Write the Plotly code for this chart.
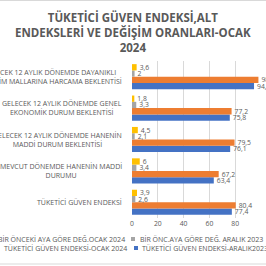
import plotly.graph_objects as go

# ---- data ----
categories = ["TGE", "MEVCUT", "HANE_BEK", "GENEL_BEK", "DAYANIKLI"]
category_labels = [
    "TÜKETİCİ GÜVEN ENDEKSİ",
    "MEVCUT DÖNEMDE HANENİN MADDİ<br>DURUMU",
    "GELECEK 12 AYLIK DÖNEMDE HANENİN<br>MADDİ DURUM BEKLENTİSİ",
    "GELECEK 12 AYLIK DÖNEMDE GENEL<br>EKONOMİK DURUM BEKLENTİSİ",
    "GELECEK 12 AYLIK DÖNEMDE DAYANIKLI<br>TÜKETİM MALLARINA HARCAMA BEKLENTİSİ",
]
endeks_aralik = [77.4, 63.4, 76.1, 75.8, 94.6]
endeks_ocak = [80.4, 67.2, 79.5, 77.2, 98.0]
deg_aralik = [2.6, 3.4, 2.1, 3.3, 2.0]
deg_ocak = [3.9, 6.0, 4.5, 1.8, 3.6]
series_names = [
    "TÜKETİCİ GÜVEN ENDEKSİ-ARALIK2023",
    "TÜKETİCİ GÜVEN ENDEKSİ-OCAK 2024",
    "BİR ÖNC.AYA GÖRE DEĞ. ARALIK 2023",
    "BİR ÖNCEKİ AYA GÖRE DEĞ.OCAK 2024",
]
series_values = [endeks_aralik, endeks_ocak, deg_aralik, deg_ocak]
series_colors = ["#4472C4", "#ED7D31", "#A5A5A5", "#FFC000"]
x_ticks = [0, 20, 40, 60, 80, 100]
title_text = "TÜKETİCİ GÜVEN ENDEKSİ,ALT<br>ENDEKSLERİ VE DEĞİŞİM ORANLARI-OCAK<br>2024"

FONT = "Open Sans"
GRAY = "#595959"
W = H = 266
L, R, T, B = 132, 5, 61, 48
PW, PH = W - L - R, H - T - B


def px_x(p):
    return (p - L) / PW


def px_y(p):
    return (H - B - p) / PH


def fmt(v):
    return f"{v:g}".replace(".", ",")


fig = go.Figure()
for name, vals, col in zip(series_names, series_values, series_colors):
    fig.add_trace(go.Bar(
        y=categories, x=vals, orientation="h", name=name,
        marker=dict(color=col, line=dict(width=0)),
        text=[fmt(v) for v in vals], textposition="outside",
        textfont=dict(family=FONT, size=6.8, color=GRAY),
        cliponaxis=False, constraintext="none", showlegend=False,
    ))

annotations = []
for cat, lab in zip(categories, category_labels):
    annotations.append(dict(
        x=px_x(124), xref="paper", y=cat, yref="y", text=lab,
        xanchor="right", yanchor="middle", align="center", showarrow=False,
        font=dict(family=FONT, size=7, color=GRAY),
    ))

# title
annotations.append(dict(
    x=px_x(133), xref="paper", y=px_y(7.5), yref="paper", text=title_text,
    xanchor="center", yanchor="top", align="center", showarrow=False,
    font=dict(family=FONT, size=11.5, color=GRAY, weight="bold"),
))

# legend (manual, partially cropped like the reference)
leg_rows = [
    (239, series_names[3], 127, series_colors[2], 133, series_names[2], 138),
    (248, series_names[1], 129, series_colors[0], 136, series_names[0], 140),
]
shapes = []
for ypx, ltxt, lend, mcol, mx, rtxt, rstart in leg_rows:
    annotations.append(dict(x=px_x(lend), xref="paper", y=px_y(ypx), yref="paper",
                            text=ltxt, xanchor="right", yanchor="middle", showarrow=False,
                            font=dict(family=FONT, size=7, color=GRAY)))
    annotations.append(dict(x=px_x(rstart), xref="paper", y=px_y(ypx), yref="paper",
                            text=rtxt, xanchor="left", yanchor="middle", showarrow=False,
                            font=dict(family=FONT, size=7, color=GRAY)))
    shapes.append(dict(type="rect", xref="paper", yref="paper",
                       x0=px_x(mx - 2), x1=px_x(mx + 2), y0=px_y(ypx + 2), y1=px_y(ypx - 2),
                       fillcolor=mcol, line=dict(width=0)))

# chart border lines
shapes.append(dict(type="line", xref="paper", yref="paper", x0=-2, x1=2,
                   y0=px_y(264), y1=px_y(264), line=dict(color="#D9D9D9", width=1)))
shapes.append(dict(type="line", xref="paper", yref="paper", x0=-2, x1=2,
                   y0=px_y(0.5), y1=px_y(0.5), line=dict(color="#D9D9D9", width=1)))

fig.update_layout(
    width=W, height=H,
    margin=dict(l=L, r=R, t=T, b=B, autoexpand=False),
    paper_bgcolor="white", plot_bgcolor="white",
    barmode="group", bargap=0.2, bargroupgap=0,
    xaxis=dict(range=[0, 100], tickvals=x_ticks, ticktext=[str(t) for t in x_ticks],
               showgrid=True, gridcolor="#D9D9D9", gridwidth=1, zeroline=False,
               showline=False, ticks="", tickfont=dict(family=FONT, size=6.8, color=GRAY)),
    yaxis=dict(showticklabels=False, showgrid=False, zeroline=False, showline=False,
               ticks="", categoryorder="array", categoryarray=categories),
    annotations=annotations, shapes=shapes,
)

fig.write_html("out.html")
